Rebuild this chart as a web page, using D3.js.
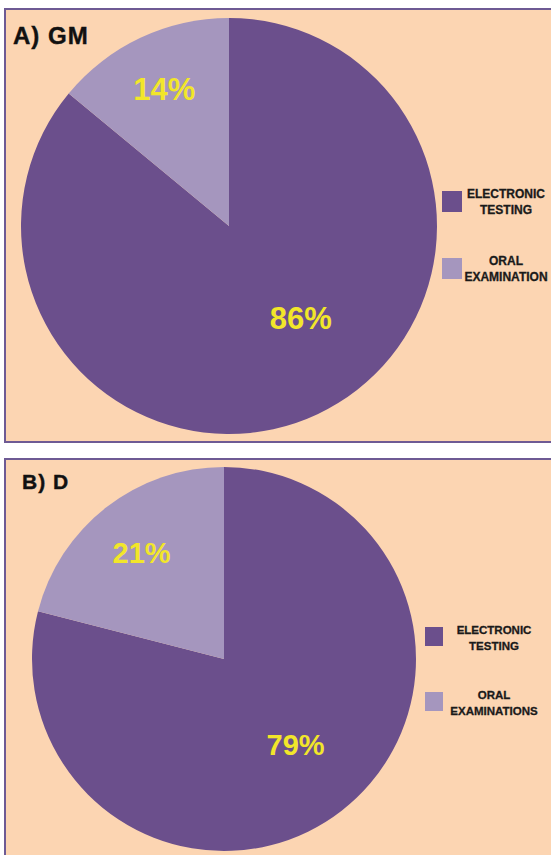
<!DOCTYPE html>
<html>
<head>
<meta charset="utf-8">
<script src="https://cdn.jsdelivr.net/npm/d3@7"></script>
<style>
  html, body { margin: 0; padding: 0; background: #ffffff; }
  svg { display: block; }
</style>
</head>
<body>
<svg id="chart" width="551" height="855"></svg>
<script>
// ---- data ----
const panelTitles = ["A) GM", "B) D"];
const categoriesA = ["ELECTRONIC TESTING", "ORAL EXAMINATION"];
const valuesA = [86, 14];
const categoriesB = ["ELECTRONIC TESTING", "ORAL EXAMINATIONS"];
const valuesB = [79, 21];

// ---- styling / layout ----
const colors = ["#6b4f8c", "#a596be"];
const bg = "#fcd5b2";
const borderColor = "#6e5a94";
const labelColor = "#f2e62a";

const panels = [
  { title: panelTitles[0], cats: categoriesA, vals: valuesA,
    box: { x: 5, y: 9, w: 560, h: 433 },
    cx: 229, cy: 226, r: 208,
    titlePos: [13, 44], titleSize: 24,
    labelSize: 31,
    labelPlace: [{ a: 142, f: 0.56 }, { a: null, f: 0.73 }],
    legend: { sx: 442, sw: 20, sh: 21, textX: 506, rows: [191, 258], fs: 12 } },
  { title: panelTitles[1], cats: categoriesB, vals: valuesB,
    box: { x: 5, y: 459, w: 560, h: 420 },
    cx: 224, cy: 659, r: 192,
    titlePos: [22, 489], titleSize: 21,
    labelSize: 29,
    labelPlace: [{ a: 140, f: 0.58 }, { a: null, f: 0.70 }],
    legend: { sx: 425, sw: 18, sh: 19, textX: 494, rows: [627, 692], fs: 11.5 } }
];

const svg = d3.select("#chart");
const font = "Liberation Sans, Arial, Helvetica, sans-serif";

panels.forEach(p => {
  const g = svg.append("g");
  g.append("rect")
    .attr("x", p.box.x).attr("y", p.box.y)
    .attr("width", p.box.w).attr("height", p.box.h)
    .attr("fill", bg).attr("stroke", borderColor).attr("stroke-width", 2);

  g.append("text")
    .attr("x", p.titlePos[0]).attr("y", p.titlePos[1])
    .attr("font-family", font).attr("font-weight", "bold")
    .attr("font-size", p.titleSize).attr("letter-spacing", 1)
    .attr("fill", "#111").attr("stroke", "#111").attr("stroke-width", 0.4)
    .text(p.title);

  const pie = d3.pie().sort(null).value(d => d);
  const arcs = pie(p.vals);
  const arc = d3.arc().innerRadius(0).outerRadius(p.r);
  const pg = g.append("g").attr("transform", `translate(${p.cx},${p.cy})`);
  pg.selectAll("path").data(arcs).join("path")
    .attr("d", arc)
    .attr("fill", (d, i) => colors[i]);

  pg.selectAll("text.lbl").data(arcs).join("text")
    .attr("class", "lbl")
    .attr("transform", (d, i) => {
      const lp = p.labelPlace[i];
      const ang = lp.a != null ? lp.a * Math.PI / 180 : (d.startAngle + d.endAngle) / 2;
      const rr = p.r * lp.f;
      return `translate(${rr * Math.sin(ang)},${-rr * Math.cos(ang)})`;
    })
    .attr("text-anchor", "middle").attr("dy", "0.36em")
    .attr("font-family", font).attr("font-weight", "bold")
    .attr("font-size", p.labelSize).attr("fill", labelColor)
    .text(d => d.data + "%");

  const L = p.legend;
  p.cats.forEach((c, i) => {
    g.append("rect")
      .attr("x", L.sx).attr("y", L.rows[i])
      .attr("width", L.sw).attr("height", L.sh)
      .attr("fill", colors[i]);
    const words = c.split(" ");
    const t = g.append("text")
      .attr("font-family", font).attr("font-weight", "bold")
      .attr("font-size", L.fs).attr("fill", "#1a1a1a")
      .attr("stroke", "#1a1a1a").attr("stroke-width", 0.3)
      .attr("text-anchor", "middle");
    words.forEach((w, j) => {
      t.append("tspan").attr("x", L.textX)
        .attr("y", L.rows[i] - 1 + 8 + j * 16)
        .text(w);
    });
  });
});
</script>
</body>
</html>
